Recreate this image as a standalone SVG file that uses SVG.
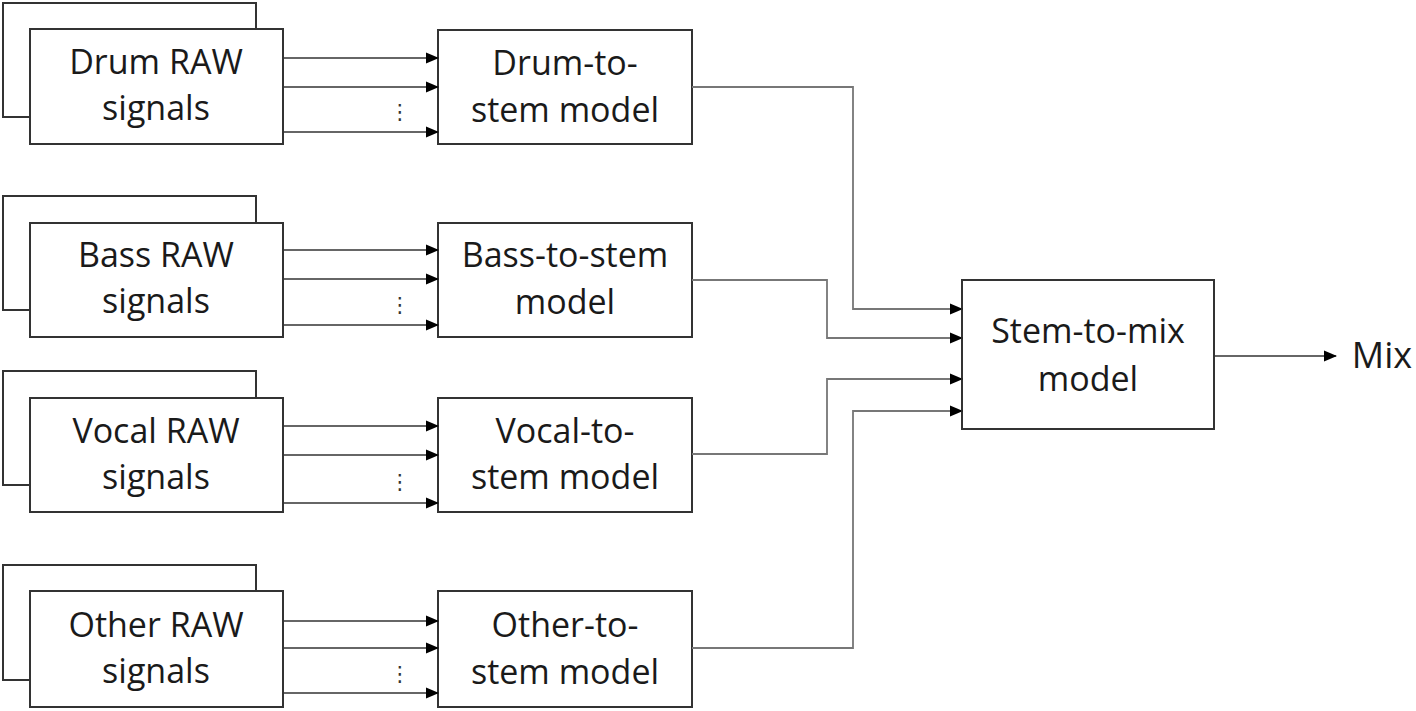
<svg xmlns="http://www.w3.org/2000/svg" width="1416" height="711" viewBox="0 0 1416 711">
<defs>
<marker id="ah" markerWidth="13" markerHeight="12" refX="12" refY="6" orient="auto" markerUnits="userSpaceOnUse">
<path d="M0,0.5 L13,6 L0,11.5 Z" fill="#000"/>
</marker>
</defs>
<style>
.box{fill:#fff;stroke:#333;stroke-width:2}
.t{font-family:"Open Sans","Noto Sans",sans-serif;font-size:34px;fill:#1a1a1a;text-anchor:middle}
.in{stroke:#333;stroke-width:1.6;fill:none}
.c{stroke:#777;stroke-width:1.8;fill:none}
.dots{font-family:"DejaVu Sans",sans-serif;font-size:21px;fill:#333;text-anchor:middle}
</style>
<rect width="1416" height="711" fill="#fff"/>

<g id="drum-raw">
<rect class="box" x="3" y="3" width="253" height="114"/>
<rect class="box" x="30" y="29" width="253" height="115"/>
<text class="t" x="156" y="74">Drum RAW</text>
<text class="t" x="156" y="120">signals</text>
</g>
<g id="bass-raw">
<rect class="box" x="3" y="196" width="253" height="114"/>
<rect class="box" x="30" y="223" width="253" height="114"/>
<text class="t" x="156" y="267">Bass RAW</text>
<text class="t" x="156" y="313">signals</text>
</g>
<g id="vocal-raw">
<rect class="box" x="3" y="371" width="253" height="114"/>
<rect class="box" x="30" y="398" width="253" height="114"/>
<text class="t" x="156" y="443">Vocal RAW</text>
<text class="t" x="156" y="489">signals</text>
</g>
<g id="other-raw">
<rect class="box" x="3" y="565" width="253" height="115"/>
<rect class="box" x="30" y="591" width="253" height="116"/>
<text class="t" x="156" y="637">Other RAW</text>
<text class="t" x="156" y="683">signals</text>
</g>

<g id="drum-model">
<rect class="box" x="438" y="30" width="254" height="114"/>
<text class="t" x="565" y="75">Drum-to-</text>
<text class="t" x="565" y="122">stem model</text>
</g>
<g id="bass-model">
<rect class="box" x="438" y="223" width="254" height="114"/>
<text class="t" x="565" y="267">Bass-to-stem</text>
<text class="t" x="565" y="314">model</text>
</g>
<g id="vocal-model">
<rect class="box" x="438" y="398" width="254" height="114"/>
<text class="t" x="565" y="443">Vocal-to-</text>
<text class="t" x="565" y="489">stem model</text>
</g>
<g id="other-model">
<rect class="box" x="438" y="591" width="254" height="116"/>
<text class="t" x="565" y="637">Other-to-</text>
<text class="t" x="565" y="684">stem model</text>
</g>

<g id="stem-to-mix">
<rect class="box" x="962" y="280" width="252" height="149"/>
<text class="t" x="1088" y="343">Stem-to-mix</text>
<text class="t" x="1088" y="391">model</text>
</g>

<g id="mix-label">
<text class="t" x="1382" y="368" style="font-size:36px">Mix</text>
</g>

<g id="connectors">
<path class="in" d="M283,58 H438" marker-end="url(#ah)"/>
<path class="in" d="M283,87 H438" marker-end="url(#ah)"/>
<path class="in" d="M283,132 H438" marker-end="url(#ah)"/>
<text class="dots" x="400" y="119">⋮</text>

<path class="in" d="M283,250 H438" marker-end="url(#ah)"/>
<path class="in" d="M283,279 H438" marker-end="url(#ah)"/>
<path class="in" d="M283,325 H438" marker-end="url(#ah)"/>
<text class="dots" x="400" y="312">⋮</text>

<path class="in" d="M283,426 H438" marker-end="url(#ah)"/>
<path class="in" d="M283,455 H438" marker-end="url(#ah)"/>
<path class="in" d="M283,503 H438" marker-end="url(#ah)"/>
<text class="dots" x="400" y="489">⋮</text>

<path class="in" d="M283,621 H438" marker-end="url(#ah)"/>
<path class="in" d="M283,648 H438" marker-end="url(#ah)"/>
<path class="in" d="M283,693 H438" marker-end="url(#ah)"/>
<text class="dots" x="400" y="681">⋮</text>

<path class="c" d="M692,87 H853 V309 H962" marker-end="url(#ah)"/>
<path class="c" d="M692,280 H827 V338 H962" marker-end="url(#ah)"/>
<path class="c" d="M692,454 H827 V379 H962" marker-end="url(#ah)"/>
<path class="c" d="M692,648 H853 V411 H962" marker-end="url(#ah)"/>
<path class="in" d="M1214,356 H1336" marker-end="url(#ah)"/>
</g>
</svg>
